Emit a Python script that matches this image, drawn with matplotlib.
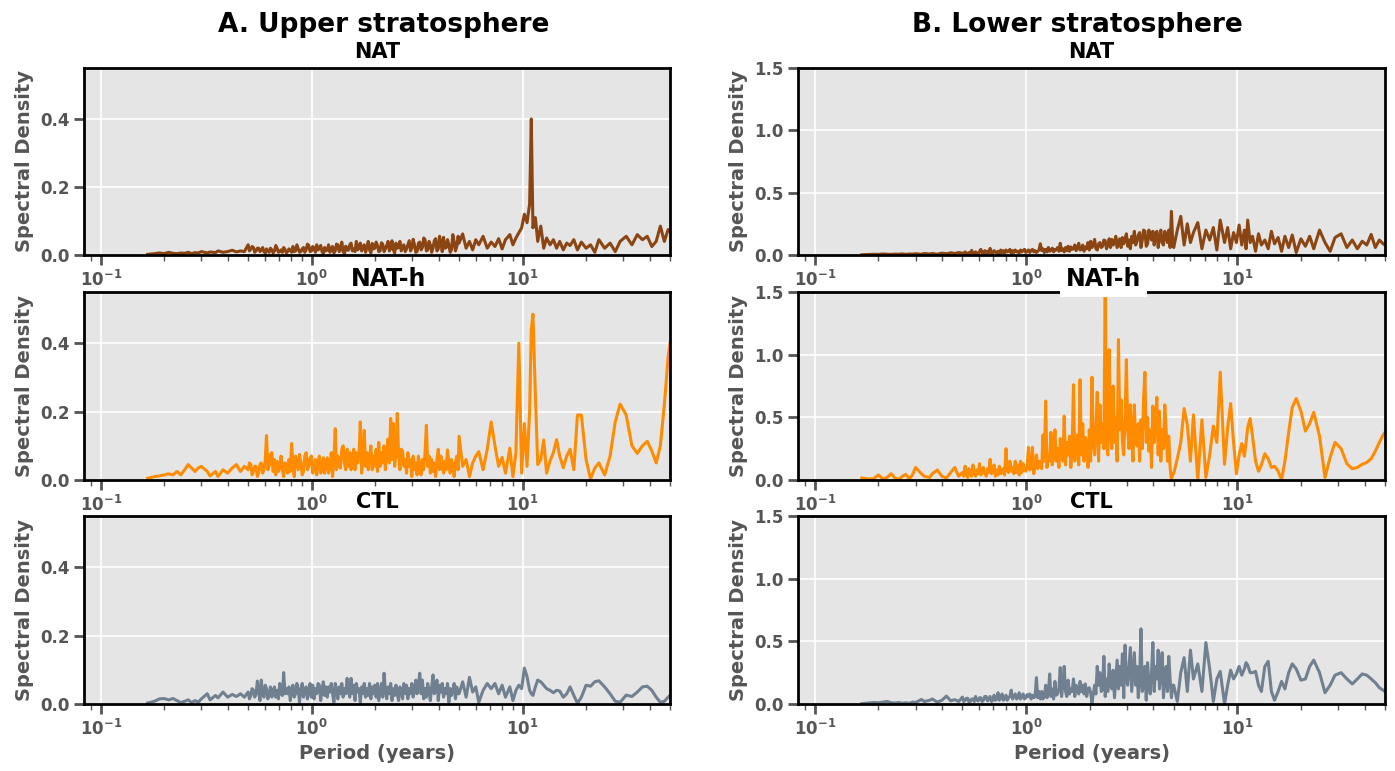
#%%
import numpy as np
import matplotlib.pyplot as plt

# %% shared period axis (years)
period = [
    0.167, 0.18, 0.19, 0.20, 0.21, 0.22, 0.23, 0.24,
    0.25, 0.26, 0.27, 0.28, 0.29, 0.30, 0.32, 0.33,
    0.35, 0.36, 0.38, 0.40, 0.42, 0.44, 0.46, 0.48,
    0.500, 0.507, 0.515, 0.522, 0.530, 0.537, 0.545, 0.553, 0.561, 0.569,
    0.577, 0.586, 0.594, 0.603, 0.611, 0.620, 0.629, 0.638, 0.648, 0.657,
    0.667, 0.676, 0.686, 0.696, 0.706, 0.716, 0.727, 0.737, 0.748, 0.759,
    0.770, 0.781, 0.792, 0.804, 0.815, 0.827, 0.839, 0.851, 0.864, 0.876,
    0.889, 0.902, 0.915, 0.928, 0.942, 0.955, 0.969, 0.983, 0.998, 1.012,
    1.027, 1.042, 1.057, 1.072, 1.088, 1.104, 1.120, 1.136, 1.152, 1.169,
    1.186, 1.203, 1.221, 1.239, 1.257, 1.275, 1.294, 1.312, 1.331, 1.351,
    1.370, 1.390, 1.410, 1.431, 1.452, 1.473, 1.494, 1.516, 1.538, 1.560,
    1.583, 1.606, 1.629, 1.653, 1.677, 1.701, 1.726, 1.751, 1.776, 1.802,
    1.828, 1.855, 1.882, 1.909, 1.937, 1.965, 1.993, 2.022, 2.052, 2.081,
    2.112, 2.142, 2.173, 2.205, 2.237, 2.270, 2.303, 2.336, 2.370, 2.404,
    2.439, 2.475, 2.511, 2.547, 2.584, 2.622, 2.660, 2.699, 2.738, 2.778,
    2.818, 2.859, 2.901, 2.943, 2.985, 3.029, 3.073, 3.117, 3.163, 3.209,
    3.255, 3.303, 3.351, 3.399, 3.449, 3.499, 3.550, 3.601, 3.654, 3.707,
    3.761, 3.815, 3.871, 3.927, 3.984, 4.042, 4.101, 4.160, 4.221, 4.282,
    4.345, 4.408, 4.472, 4.537, 4.603, 4.670, 4.738, 4.807, 4.877, 4.948,
    5.0, 5.2, 5.4, 5.6, 5.8, 6.0, 6.2, 6.5, 6.8, 7.1,
    7.4, 7.7, 8.0, 8.3, 8.7, 9.0, 9.3, 9.6, 9.9, 10.2,
    10.5, 10.8, 11.0, 11.2, 11.5, 11.8, 12.2, 12.6, 13.0, 13.5,
    14.0, 14.5, 15.0, 15.6, 16.2, 16.8, 17.5, 18.2, 19.0, 20.0,
    21.0, 22.0, 23.0, 24.5, 26.0, 27.5, 29.0, 31.0, 33.0, 35.0,
    37.0, 39.0, 41.0, 43.0, 45.0, 47.0, 49.0, 50.0,
]

# %% upper stratosphere
nat_upper = [
    0.002, 0.004, 0.006, 0.004, 0.008, 0.005, 0.004, 0.006,
    0.005, 0.008, 0.004, 0.007, 0.006, 0.010, 0.006, 0.009,
    0.007, 0.012, 0.008, 0.010, 0.014, 0.009, 0.012, 0.010,
    0.030, 0.012, 0.018, 0.025, 0.022, 0.008, 0.012, 0.020, 0.020, 0.010,
    0.014, 0.022, 0.010, 0.005, 0.018, 0.012, 0.008, 0.020, 0.015, 0.006,
    0.012, 0.028, 0.020, 0.008, 0.010, 0.015, 0.008, 0.022, 0.016, 0.006,
    0.010, 0.018, 0.014, 0.008, 0.025, 0.010, 0.012, 0.030, 0.018, 0.008,
    0.010, 0.018, 0.022, 0.008, 0.015, 0.032, 0.028, 0.010, 0.012, 0.025,
    0.020, 0.008, 0.030, 0.015, 0.018, 0.028, 0.010, 0.004, 0.022, 0.012,
    0.015, 0.030, 0.008, 0.020, 0.025, 0.006, 0.012, 0.032, 0.030, 0.010,
    0.018, 0.038, 0.010, 0.004, 0.026, 0.015, 0.014, 0.030, 0.035, 0.012,
    0.018, 0.010, 0.040, 0.015, 0.020, 0.035, 0.012, 0.025, 0.030, 0.008,
    0.022, 0.040, 0.015, 0.006, 0.034, 0.018, 0.020, 0.038, 0.028, 0.010,
    0.012, 0.036, 0.032, 0.010, 0.018, 0.028, 0.040, 0.012, 0.020, 0.042,
    0.015, 0.006, 0.035, 0.020, 0.022, 0.040, 0.012, 0.025, 0.030, 0.010,
    0.018, 0.030, 0.042, 0.012, 0.020, 0.046, 0.030, 0.008, 0.010, 0.035,
    0.038, 0.015, 0.022, 0.050, 0.045, 0.012, 0.015, 0.040, 0.030, 0.008,
    0.020, 0.042, 0.048, 0.012, 0.018, 0.055, 0.035, 0.010, 0.052, 0.020,
    0.022, 0.045, 0.030, 0.008, 0.015, 0.060, 0.040, 0.012, 0.025, 0.055,
    0.035, 0.062, 0.020, 0.040, 0.015, 0.045, 0.030, 0.055, 0.020, 0.038,
    0.025, 0.048, 0.018, 0.045, 0.060, 0.030, 0.050, 0.065, 0.080, 0.120,
    0.095, 0.150, 0.400, 0.080, 0.110, 0.040, 0.085, 0.020, 0.050, 0.030,
    0.045, 0.020, 0.040, 0.015, 0.035, 0.028, 0.045, 0.015, 0.038, 0.020,
    0.030, 0.008, 0.045, 0.020, 0.035, 0.010, 0.040, 0.055, 0.030, 0.060,
    0.045, 0.055, 0.025, 0.040, 0.085, 0.040, 0.075, 0.070,
]
nath_upper = [
    0.005, 0.010, 0.012, 0.015, 0.018, 0.015, 0.025, 0.015,
    0.030, 0.045, 0.035, 0.025, 0.035, 0.040, 0.025, 0.012,
    0.025, 0.010, 0.030, 0.020, 0.035, 0.045, 0.025, 0.040,
    0.030, 0.050, 0.045, 0.015, 0.025, 0.040, 0.040, 0.010, 0.020, 0.045,
    0.050, 0.020, 0.030, 0.060, 0.130, 0.030, 0.040, 0.075, 0.080, 0.025,
    0.060, 0.015, 0.055, 0.025, 0.035, 0.070, 0.030, 0.010, 0.050, 0.045,
    0.020, 0.060, 0.025, 0.107, 0.040, 0.010, 0.070, 0.050, 0.030, 0.075,
    0.050, 0.015, 0.025, 0.070, 0.080, 0.030, 0.040, 0.065, 0.070, 0.020,
    0.030, 0.060, 0.015, 0.050, 0.070, 0.020, 0.030, 0.065, 0.020, 0.045,
    0.065, 0.020, 0.040, 0.080, 0.010, 0.060, 0.150, 0.030, 0.070, 0.040,
    0.035, 0.090, 0.100, 0.050, 0.030, 0.090, 0.040, 0.080, 0.030, 0.070,
    0.090, 0.030, 0.080, 0.050, 0.070, 0.170, 0.020, 0.060, 0.145, 0.040,
    0.080, 0.030, 0.060, 0.100, 0.030, 0.070, 0.040, 0.090, 0.025, 0.110,
    0.040, 0.080, 0.050, 0.100, 0.030, 0.070, 0.120, 0.050, 0.180, 0.060,
    0.165, 0.040, 0.080, 0.195, 0.070, 0.030, 0.090, 0.085, 0.040, 0.060,
    0.020, 0.080, 0.040, 0.060, 0.010, 0.070, 0.030, 0.050, 0.015, 0.070,
    0.040, 0.015, 0.060, 0.030, 0.080, 0.160, 0.040, 0.070, 0.020, 0.060,
    0.025, 0.050, 0.010, 0.060, 0.090, 0.030, 0.070, 0.040, 0.020, 0.055,
    0.030, 0.088, 0.050, 0.020, 0.060, 0.040, 0.010, 0.050, 0.070, 0.030,
    0.128, 0.040, 0.060, 0.010, 0.050, 0.070, 0.083, 0.030, 0.090, 0.170,
    0.100, 0.040, 0.066, 0.020, 0.093, 0.010, 0.080, 0.400, 0.020, 0.165,
    0.040, 0.200, 0.440, 0.485, 0.250, 0.045, 0.060, 0.117, 0.020, 0.056,
    0.080, 0.118, 0.070, 0.036, 0.070, 0.090, 0.030, 0.190, 0.190, 0.060,
    0.003, 0.035, 0.050, 0.015, 0.070, 0.170, 0.222, 0.190, 0.100, 0.078,
    0.100, 0.113, 0.085, 0.050, 0.100, 0.220, 0.360, 0.400,
]
ctl_upper = [
    0.003, 0.008, 0.015, 0.016, 0.012, 0.016, 0.010, 0.004,
    0.008, 0.012, 0.004, 0.010, 0.005, 0.015, 0.030, 0.012,
    0.025, 0.018, 0.035, 0.020, 0.028, 0.022, 0.030, 0.020,
    0.035, 0.015, 0.025, 0.045, 0.040, 0.020, 0.030, 0.067, 0.035, 0.010,
    0.070, 0.030, 0.020, 0.055, 0.045, 0.015, 0.030, 0.050, 0.020, 0.040,
    0.050, 0.020, 0.040, 0.015, 0.060, 0.030, 0.025, 0.092, 0.030, 0.045,
    0.030, 0.050, 0.010, 0.040, 0.055, 0.020, 0.030, 0.060, 0.045, 0.005,
    0.040, 0.060, 0.020, 0.045, 0.050, 0.015, 0.035, 0.060, 0.020, 0.055,
    0.015, 0.045, 0.030, 0.060, 0.055, 0.010, 0.040, 0.065, 0.025, 0.050,
    0.020, 0.050, 0.035, 0.060, 0.030, 0.005, 0.060, 0.040, 0.015, 0.050,
    0.030, 0.060, 0.020, 0.045, 0.030, 0.075, 0.040, 0.020, 0.075, 0.030,
    0.055, 0.010, 0.060, 0.035, 0.045, 0.005, 0.050, 0.030, 0.060, 0.020,
    0.045, 0.025, 0.060, 0.015, 0.050, 0.030, 0.055, 0.020, 0.060, 0.010,
    0.035, 0.060, 0.020, 0.090, 0.040, 0.015, 0.050, 0.030, 0.060, 0.010,
    0.045, 0.025, 0.055, 0.030, 0.010, 0.050, 0.040, 0.015, 0.060, 0.030,
    0.055, 0.015, 0.045, 0.030, 0.060, 0.020, 0.040, 0.070, 0.030, 0.055,
    0.090, 0.030, 0.070, 0.015, 0.045, 0.020, 0.060, 0.040, 0.010, 0.050,
    0.085, 0.030, 0.045, 0.070, 0.010, 0.055, 0.035, 0.060, 0.020, 0.045,
    0.030, 0.060, 0.005, 0.045, 0.025, 0.040, 0.060, 0.015, 0.050, 0.030,
    0.030, 0.065, 0.020, 0.078, 0.035, 0.050, 0.005, 0.040, 0.060, 0.045,
    0.060, 0.030, 0.055, 0.020, 0.050, 0.010, 0.040, 0.055, 0.045, 0.105,
    0.080, 0.040, 0.030, 0.025, 0.050, 0.070, 0.065, 0.055, 0.045, 0.040,
    0.033, 0.040, 0.038, 0.020, 0.030, 0.050, 0.025, 0.002, 0.020, 0.055,
    0.052, 0.065, 0.068, 0.050, 0.030, 0.008, 0.005, 0.026, 0.022, 0.035,
    0.050, 0.052, 0.040, 0.020, 0.005, 0.008, 0.020, 0.025,
]

# %% lower stratosphere
nat_lower = [
    0.002, 0.004, 0.006, 0.005, 0.008, 0.006, 0.005, 0.007,
    0.006, 0.009, 0.005, 0.008, 0.007, 0.010, 0.006, 0.012,
    0.008, 0.012, 0.006, 0.015, 0.010, 0.018, 0.012, 0.020,
    0.015, 0.008, 0.025, 0.015, 0.010, 0.020, 0.012, 0.037, 0.015, 0.008,
    0.025, 0.012, 0.010, 0.030, 0.045, 0.015, 0.020, 0.035, 0.012, 0.030,
    0.015, 0.053, 0.020, 0.010, 0.035, 0.025, 0.015, 0.030, 0.010, 0.040,
    0.020, 0.035, 0.015, 0.040, 0.025, 0.030, 0.045, 0.015, 0.035, 0.020,
    0.040, 0.025, 0.030, 0.015, 0.040, 0.025, 0.035, 0.045, 0.020, 0.030,
    0.040, 0.020, 0.035, 0.045, 0.025, 0.035, 0.020, 0.030, 0.040, 0.090,
    0.035, 0.050, 0.020, 0.045, 0.025, 0.060, 0.030, 0.040, 0.055, 0.025,
    0.045, 0.040, 0.060, 0.030, 0.094, 0.035, 0.050, 0.025, 0.060, 0.035,
    0.070, 0.030, 0.065, 0.045, 0.050, 0.080, 0.035, 0.060, 0.094, 0.040,
    0.045, 0.080, 0.030, 0.065, 0.050, 0.100, 0.040, 0.110, 0.060, 0.080,
    0.125, 0.050, 0.040, 0.090, 0.100, 0.060, 0.070, 0.120, 0.115, 0.050,
    0.080, 0.130, 0.060, 0.125, 0.080, 0.100, 0.150, 0.060, 0.110, 0.130,
    0.060, 0.140, 0.090, 0.130, 0.170, 0.070, 0.120, 0.050, 0.150, 0.100,
    0.190, 0.080, 0.110, 0.160, 0.180, 0.060, 0.120, 0.200, 0.190, 0.070,
    0.090, 0.200, 0.150, 0.120, 0.190, 0.080, 0.170, 0.190, 0.060, 0.140,
    0.200, 0.100, 0.080, 0.190, 0.150, 0.100, 0.200, 0.060, 0.350, 0.100,
    0.060, 0.200, 0.310, 0.080, 0.250, 0.100, 0.180, 0.260, 0.050, 0.200,
    0.120, 0.220, 0.040, 0.280, 0.100, 0.220, 0.050, 0.180, 0.100, 0.240,
    0.080, 0.200, 0.050, 0.280, 0.100, 0.150, 0.030, 0.170, 0.080, 0.120,
    0.050, 0.190, 0.090, 0.140, 0.030, 0.150, 0.060, 0.160, 0.020, 0.130,
    0.070, 0.150, 0.050, 0.200, 0.100, 0.030, 0.140, 0.170, 0.060, 0.120,
    0.050, 0.110, 0.080, 0.165, 0.060, 0.120, 0.090, 0.080,
]
nath_lower = [
    0.016, 0.008, 0.010, 0.040, 0.010, 0.020, 0.050, 0.015,
    0.005, 0.030, 0.045, 0.010, 0.040, 0.100, 0.050, 0.030,
    0.020, 0.050, 0.080, 0.030, 0.015, 0.060, 0.100, 0.030,
    0.060, 0.030, 0.110, 0.040, 0.020, 0.090, 0.050, 0.030, 0.120, 0.060,
    0.030, 0.080, 0.050, 0.130, 0.040, 0.050, 0.100, 0.060, 0.030, 0.090,
    0.060, 0.165, 0.050, 0.070, 0.120, 0.030, 0.080, 0.040, 0.110, 0.050,
    0.060, 0.090, 0.040, 0.250, 0.080, 0.060, 0.150, 0.070, 0.100, 0.050,
    0.150, 0.060, 0.120, 0.040, 0.150, 0.060, 0.130, 0.080, 0.070, 0.110,
    0.260, 0.080, 0.100, 0.260, 0.050, 0.120, 0.200, 0.090, 0.150, 0.120,
    0.090, 0.360, 0.150, 0.630, 0.100, 0.200, 0.150, 0.380, 0.120, 0.200,
    0.400, 0.150, 0.250, 0.100, 0.330, 0.200, 0.150, 0.510, 0.120, 0.300,
    0.200, 0.350, 0.100, 0.250, 0.760, 0.150, 0.300, 0.360, 0.120, 0.800,
    0.200, 0.450, 0.150, 0.340, 0.250, 0.100, 0.400, 0.150, 0.820, 0.300,
    0.200, 0.400, 0.700, 0.150, 0.600, 0.300, 0.450, 0.250, 1.600, 0.300,
    0.200, 1.040, 0.400, 0.250, 0.750, 0.300, 0.500, 0.150, 1.120, 0.400,
    0.640, 0.300, 0.200, 0.500, 0.960, 0.400, 0.250, 0.600, 0.350, 0.150,
    0.600, 0.300, 0.270, 0.450, 0.150, 0.480, 0.250, 0.650, 0.860, 0.300,
    0.500, 0.230, 0.400, 0.100, 0.590, 0.300, 0.450, 0.660, 0.200, 0.550,
    0.150, 0.400, 0.250, 0.600, 0.400, 0.150, 0.350, 0.100, 0.000, 0.050,
    0.050, 0.170, 0.300, 0.570, 0.440, 0.150, 0.520, 0.000, 0.480, 0.020,
    0.200, 0.430, 0.300, 0.860, 0.125, 0.420, 0.610, 0.300, 0.050, 0.200,
    0.290, 0.190, 0.300, 0.420, 0.490, 0.350, 0.150, 0.070, 0.120, 0.210,
    0.170, 0.100, 0.110, 0.070, 0.000, 0.150, 0.380, 0.580, 0.650, 0.550,
    0.390, 0.450, 0.540, 0.350, 0.020, 0.180, 0.300, 0.250, 0.130, 0.090,
    0.100, 0.125, 0.140, 0.170, 0.230, 0.300, 0.360, 0.380,
]
ctl_lower = [
    0.003, 0.008, 0.012, 0.010, 0.015, 0.020, 0.010, 0.008,
    0.012, 0.006, 0.010, 0.005, 0.015, 0.012, 0.036, 0.020,
    0.030, 0.040, 0.015, 0.030, 0.063, 0.025, 0.035, 0.020,
    0.055, 0.020, 0.030, 0.045, 0.045, 0.015, 0.020, 0.040, 0.040, 0.020,
    0.060, 0.030, 0.025, 0.050, 0.050, 0.020, 0.030, 0.060, 0.060, 0.025,
    0.040, 0.060, 0.020, 0.030, 0.070, 0.030, 0.040, 0.090, 0.030, 0.050,
    0.080, 0.030, 0.040, 0.070, 0.030, 0.050, 0.060, 0.110, 0.040, 0.060,
    0.080, 0.040, 0.050, 0.090, 0.040, 0.060, 0.080, 0.040, 0.050, 0.075,
    0.060, 0.080, 0.040, 0.070, 0.050, 0.060, 0.210, 0.050, 0.100, 0.040,
    0.100, 0.040, 0.060, 0.150, 0.050, 0.080, 0.240, 0.060, 0.120, 0.040,
    0.180, 0.070, 0.080, 0.120, 0.290, 0.060, 0.150, 0.300, 0.100, 0.060,
    0.190, 0.080, 0.120, 0.100, 0.200, 0.060, 0.150, 0.120, 0.080, 0.180,
    0.100, 0.150, 0.080, 0.160, 0.060, 0.120, 0.130, 0.090, 0.010, 0.080,
    0.150, 0.080, 0.300, 0.150, 0.250, 0.100, 0.120, 0.380, 0.060, 0.200,
    0.100, 0.320, 0.150, 0.120, 0.270, 0.050, 0.200, 0.350, 0.120, 0.300,
    0.150, 0.400, 0.050, 0.470, 0.200, 0.150, 0.300, 0.450, 0.100, 0.250,
    0.410, 0.150, 0.300, 0.050, 0.200, 0.600, 0.100, 0.150, 0.300, 0.030,
    0.330, 0.150, 0.080, 0.250, 0.490, 0.100, 0.300, 0.200, 0.430, 0.120,
    0.250, 0.410, 0.050, 0.200, 0.300, 0.100, 0.380, 0.200, 0.050, 0.150,
    0.150, 0.020, 0.250, 0.370, 0.100, 0.430, 0.200, 0.320, 0.100, 0.490,
    0.280, 0.020, 0.200, 0.260, 0.000, 0.150, 0.270, 0.200, 0.240, 0.300,
    0.230, 0.280, 0.330, 0.310, 0.250, 0.250, 0.260, 0.150, 0.100, 0.300,
    0.340, 0.100, 0.030, 0.100, 0.180, 0.120, 0.250, 0.320, 0.280, 0.190,
    0.200, 0.300, 0.350, 0.250, 0.090, 0.150, 0.230, 0.250, 0.200, 0.160,
    0.200, 0.240, 0.230, 0.200, 0.170, 0.130, 0.110, 0.100,
]

run_names = ['NAT', 'NAT-h', 'CTL']
run_colors = ['#8B4513', '#FF8C00', '#708090']
upper = [nat_upper, nath_upper, ctl_upper]
lower = [nat_lower, nath_lower, ctl_lower]

# %%
gray = '#555555'
plt.rcParams['font.weight'] = 'bold'
plt.rcParams['axes.labelweight'] = 'bold'

fig = plt.figure(figsize=(13.95, 7.71), dpi=100)
W, H = 1395, 771
cols = [(84, 670), (798, 1385)]
rows = [(68, 255), (292, 480), (516, 704)]
ylims = [0.55, 1.5]
yticks = [[0, 0.2, 0.4], [0, 0.5, 1.0, 1.5]]
col_data = [upper, lower]
title_sizes = [15, 17, 15]
title_y = [1.085, 1.07, 1.075]
title_x = [0.5, 0.52, 0.5]

for c, (x0, x1) in enumerate(cols):
    for r, (y0, y1) in enumerate(rows):
        ax = fig.add_axes([x0 / W, 1 - y1 / H, (x1 - x0) / W, (y1 - y0) / H])
        ax.set_facecolor('#E5E5E5')
        ax.plot(period, col_data[c][r], color=run_colors[r], lw=2.2)
        ax.set_xscale('log')
        ax.set_xlim(1 / 12, 50)
        ax.set_ylim(0, ylims[c])
        ax.set_yticks(yticks[c])
        ax.grid(True, which='major', color='white', lw=1.2)
        ax.set_axisbelow(True)
        for s in ax.spines.values():
            s.set_color('black')
            s.set_linewidth(2)
        ax.tick_params(which='major', length=7, width=2, color=gray,
                       labelcolor=gray, labelsize=12)
        ax.tick_params(which='minor', length=4, width=1, color=gray)
        for lab in ax.get_xticklabels() + ax.get_yticklabels():
            lab.set_fontweight('bold')
        ax.set_ylabel('Spectral Density', color=gray, fontsize=14,
                      fontweight='bold')
        if r == 2:
            ax.set_xlabel('Period (years)', color=gray, fontsize=14,
                          fontweight='bold')
        box = None
        if c == 1 and r == 1:
            box = dict(facecolor='white', edgecolor='none', pad=4)
        ax.text(title_x[r], title_y[r], run_names[r], transform=ax.transAxes,
                ha='center', va='center', fontsize=title_sizes[r],
                fontweight='bold', bbox=box, zorder=5)

fig.text(384 / W, 1 - 25 / H, 'A. Upper stratosphere', ha='center',
         va='center', fontsize=19, fontweight='bold')
fig.text(1077 / W, 1 - 25 / H, 'B. Lower stratosphere', ha='center',
         va='center', fontsize=19, fontweight='bold')

plt.savefig('out.png', dpi=100)
